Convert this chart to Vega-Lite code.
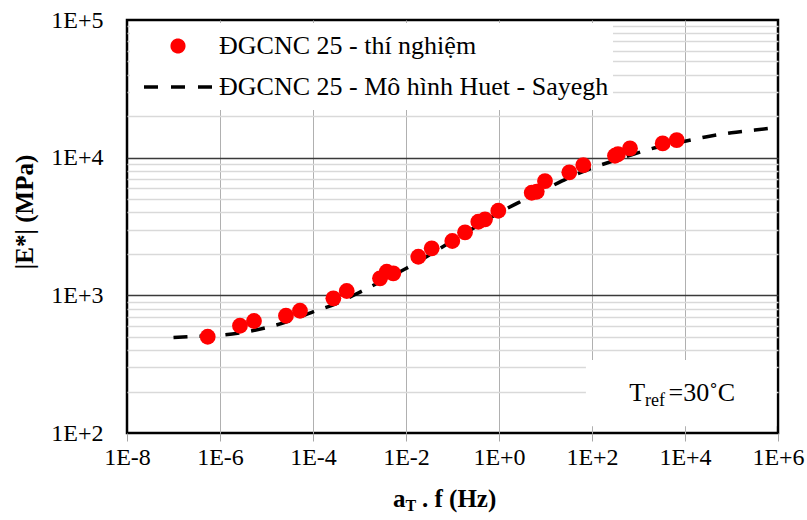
{
  "$schema": "https://vega.github.io/schema/vega-lite/v6.json",
  "width": 651,
  "height": 413,
  "autosize": {"type": "none"},
  "padding": {"left": 127, "top": 20, "right": 29, "bottom": 87},
  "background": "white",
  "config": {
    "view": {"stroke": "black", "strokeWidth": 2.5},
    "font": "Liberation Serif"
  },
  "datasets": {
    "measured": [
      {"f": 5.44e-7, "E": 500, "series": "ĐGCNC 25 - thí nghiệm"},
      {"f": 2.69e-6, "E": 601, "series": "ĐGCNC 25 - thí nghiệm"},
      {"f": 5.38e-6, "E": 651, "series": "ĐGCNC 25 - thí nghiệm"},
      {"f": 2.62e-5, "E": 711, "series": "ĐGCNC 25 - thí nghiệm"},
      {"f": 5.25e-5, "E": 773, "series": "ĐGCNC 25 - thí nghiệm"},
      {"f": 2.74e-4, "E": 951, "series": "ĐGCNC 25 - thí nghiệm"},
      {"f": 5.31e-4, "E": 1075, "series": "ĐGCNC 25 - thí nghiệm"},
      {"f": 2.76e-3, "E": 1329, "series": "ĐGCNC 25 - thí nghiệm"},
      {"f": 3.85e-3, "E": 1484, "series": "ĐGCNC 25 - thí nghiệm"},
      {"f": 5.33e-3, "E": 1445, "series": "ĐGCNC 25 - thí nghiệm"},
      {"f": 1.84e-2, "E": 1907, "series": "ĐGCNC 25 - thí nghiệm"},
      {"f": 3.57e-2, "E": 2194, "series": "ĐGCNC 25 - thí nghiệm"},
      {"f": 9.9e-2, "E": 2480, "series": "ĐGCNC 25 - thí nghiệm"},
      {"f": 0.186, "E": 2868, "series": "ĐGCNC 25 - thí nghiệm"},
      {"f": 0.359, "E": 3423, "series": "ĐGCNC 25 - thí nghiệm"},
      {"f": 0.5, "E": 3564, "series": "ĐGCNC 25 - thí nghiệm"},
      {"f": 0.966, "E": 4117, "series": "ĐGCNC 25 - thí nghiệm"},
      {"f": 5.05, "E": 5560, "series": "ĐGCNC 25 - thí nghiệm"},
      {"f": 6.47, "E": 5655, "series": "ĐGCNC 25 - thí nghiệm"},
      {"f": 9.75, "E": 6761, "series": "ĐGCNC 25 - thí nghiệm"},
      {"f": 32.5, "E": 7820, "series": "ĐGCNC 25 - thí nghiệm"},
      {"f": 65, "E": 8836, "series": "ĐGCNC 25 - thí nghiệm"},
      {"f": 312, "E": 10323, "series": "ĐGCNC 25 - thí nghiệm"},
      {"f": 362, "E": 10620, "series": "ĐGCNC 25 - thí nghiệm"},
      {"f": 656, "E": 11683, "series": "ĐGCNC 25 - thí nghiệm"},
      {"f": 3311, "E": 12699, "series": "ĐGCNC 25 - thí nghiệm"},
      {"f": 6637, "E": 13421, "series": "ĐGCNC 25 - thí nghiệm"}
    ],
    "model": [
      {"f": 1e-7, "E": 494, "series": "ĐGCNC 25 - Mô hình Huet - Sayegh"},
      {"f": 3.16e-7, "E": 504, "series": "ĐGCNC 25 - Mô hình Huet - Sayegh"},
      {"f": 1e-6, "E": 512, "series": "ĐGCNC 25 - Mô hình Huet - Sayegh"},
      {"f": 3.16e-6, "E": 538, "series": "ĐGCNC 25 - Mô hình Huet - Sayegh"},
      {"f": 1e-5, "E": 583, "series": "ĐGCNC 25 - Mô hình Huet - Sayegh"},
      {"f": 3.16e-5, "E": 653, "series": "ĐGCNC 25 - Mô hình Huet - Sayegh"},
      {"f": 1e-4, "E": 759, "series": "ĐGCNC 25 - Mô hình Huet - Sayegh"},
      {"f": 3.16e-4, "E": 872, "series": "ĐGCNC 25 - Mô hình Huet - Sayegh"},
      {"f": 1e-3, "E": 1051, "series": "ĐGCNC 25 - Mô hình Huet - Sayegh"},
      {"f": 3.16e-3, "E": 1283, "series": "ĐGCNC 25 - Mô hình Huet - Sayegh"},
      {"f": 1e-2, "E": 1565, "series": "ĐGCNC 25 - Mô hình Huet - Sayegh"},
      {"f": 3.16e-2, "E": 1962, "series": "ĐGCNC 25 - Mô hình Huet - Sayegh"},
      {"f": 0.1, "E": 2492, "series": "ĐGCNC 25 - Mô hình Huet - Sayegh"},
      {"f": 0.316, "E": 3146, "series": "ĐGCNC 25 - Mô hình Huet - Sayegh"},
      {"f": 1, "E": 3973, "series": "ĐGCNC 25 - Mô hình Huet - Sayegh"},
      {"f": 3.16, "E": 4864, "series": "ĐGCNC 25 - Mô hình Huet - Sayegh"},
      {"f": 10, "E": 5890, "series": "ĐGCNC 25 - Mô hình Huet - Sayegh"},
      {"f": 31.6, "E": 7155, "series": "ĐGCNC 25 - Mô hình Huet - Sayegh"},
      {"f": 100, "E": 8404, "series": "ĐGCNC 25 - Mô hình Huet - Sayegh"},
      {"f": 316, "E": 9568, "series": "ĐGCNC 25 - Mô hình Huet - Sayegh"},
      {"f": 1000, "E": 10890, "series": "ĐGCNC 25 - Mô hình Huet - Sayegh"},
      {"f": 3162, "E": 12145, "series": "ĐGCNC 25 - Mô hình Huet - Sayegh"},
      {"f": 10000, "E": 13150, "series": "ĐGCNC 25 - Mô hình Huet - Sayegh"},
      {"f": 31623, "E": 14260, "series": "ĐGCNC 25 - Mô hình Huet - Sayegh"},
      {"f": 100000, "E": 15170, "series": "ĐGCNC 25 - Mô hình Huet - Sayegh"},
      {"f": 316228, "E": 15860, "series": "ĐGCNC 25 - Mô hình Huet - Sayegh"},
      {"f": 1000000, "E": 16670, "series": "ĐGCNC 25 - Mô hình Huet - Sayegh"}
    ]
  },
  "layer": [
    {
      "data": {"values": [{"note": "Tref box"}]},
      "mark": {"type": "rect", "fill": "white"},
      "encoding": {
        "x": {"datum": 74, "type": "quantitative", "scale": {"type": "log", "domain": [1e-8, 1e6], "nice": false}},
        "x2": {"datum": 922571},
        "y": {"datum": 339, "type": "quantitative", "scale": {"type": "log", "domain": [100, 100000], "nice": false}},
        "y2": {"datum": 112}
      }
    },
    {
      "data": {"name": "model"},
      "mark": {"type": "line", "strokeDash": [14, 12], "strokeWidth": 3.5, "interpolate": "monotone"},
      "encoding": {
        "x": {"field": "f", "type": "quantitative", "scale": {"type": "log", "domain": [1e-8, 1e6], "nice": false},
          "axis": {
            "values": [1e-8, 1e-6, 1e-4, 1e-2, 1, 100, 10000, 1000000],
            "labelExpr": "'1E' + (datum.value >= 0.5 ? '+' : '-') + abs(round(log(datum.value) / LN10))",
            "labelFont": "Liberation Serif", "labelFontSize": 24, "labelColor": "black",
            "labelPadding": 4, "labelFlush": false, "labelOverlap": false, "labelBound": false,
            "ticks": true, "tickSize": 8, "tickColor": "#a6a6a6", "tickWidth": 1,
            "domain": false,
            "grid": true, "gridColor": "#b0b0b0", "gridWidth": 1,
            "gridOpacity": {"condition": {"test": "datum.value < 1e-7 || datum.value > 1e5", "value": 0}, "value": 1},
            "title": null
          }
        },
        "y": {"field": "E", "type": "quantitative", "scale": {"type": "log", "domain": [100, 100000], "nice": false},
          "axis": {
            "values": [100, 200, 300, 400, 500, 600, 700, 800, 900, 1000, 2000, 3000, 4000, 5000, 6000, 7000, 8000, 9000, 10000, 20000, 30000, 40000, 50000, 60000, 70000, 80000, 90000, 100000],
            "labelExpr": "datum.value == 100 ? '1E+2' : datum.value == 1000 ? '1E+3' : datum.value == 10000 ? '1E+4' : datum.value == 100000 ? '1E+5' : ''",
            "labelFont": "Liberation Serif", "labelFontSize": 24, "labelColor": "black",
            "labelPadding": 24, "labelOverlap": false, "labelBound": false,
            "ticks": false, "tickSize": 0,
            "domain": false,
            "grid": true,
            "gridColor": {"condition": {"test": "datum.value == 1000 || datum.value == 10000", "value": "#3a3a3a"}, "value": "#d9d9d9"},
            "gridWidth": 1.5,
            "gridOpacity": {"condition": {"test": "datum.value < 150 || datum.value > 95000", "value": 0}, "value": 1},
            "title": "|E*| (MPa)",
            "titleFont": "Liberation Serif", "titleFontSize": 25, "titleFontWeight": "bold", "titleColor": "black",
            "titleX": -103, "titleY": 191.5, "titleAngle": 270, "titleAlign": "center", "titleBaseline": "middle"
          }
        },
        "color": {
          "field": "series", "type": "nominal",
          "scale": {"domain": ["ĐGCNC 25 - thí nghiệm", "ĐGCNC 25 - Mô hình Huet - Sayegh"], "range": ["#ff0000", "#000000"]},
          "legend": {
            "title": null,
            "orient": "top-left",
            "offset": 3,
            "padding": 4,
            "fillColor": "white",
            "labelFont": "Liberation Serif",
            "labelFontSize": 26,
            "labelColor": "black",
            "labelLimit": 0,
            "labelOffset": 5,
            "symbolType": "stroke",
            "symbolSize": 4624,
            "symbolStrokeWidth": 3.5,
            "symbolDash": [14, 13],
            "symbolOffset": 8,
            "clipHeight": 38,
            "rowPadding": 3,
            "encode": {
              "symbols": {
                "update": {
                  "shape": [{"test": "datum.value == 'ĐGCNC 25 - thí nghiệm'", "value": "M0.17,0A0.17,0.17,0,1,1,-0.17,0A0.17,0.17,0,1,1,0.17,0Z"}, {"value": "stroke"}],
                  "fill": [{"test": "datum.value == 'ĐGCNC 25 - thí nghiệm'", "value": "#ff0000"}, {"value": "transparent"}],
                  "stroke": [{"test": "datum.value == 'ĐGCNC 25 - thí nghiệm'", "value": "#ff0000"}, {"value": "#000000"}],
                  "strokeDash": [{"test": "datum.value == 'ĐGCNC 25 - thí nghiệm'", "value": [1, 0]}, {"value": [14, 13]}],
                  "opacity": {"value": 1}
                }
              }
            }
          }
        }
      }
    },
    {
      "data": {"name": "measured"},
      "mark": {"type": "point", "shape": "circle", "filled": true, "size": 250, "opacity": 1},
      "encoding": {
        "x": {"field": "f", "type": "quantitative", "scale": {"type": "log"}},
        "y": {"field": "E", "type": "quantitative", "scale": {"type": "log"}},
        "color": {"field": "series", "type": "nominal"}
      }
    },
    {
      "data": {"values": [{"note": "Tref"}]},
      "mark": {"type": "text", "text": "T", "font": "Liberation Serif", "fontSize": 26, "align": "left", "baseline": "alphabetic", "dx": -9.2, "dy": 9, "color": "black"},
      "encoding": {
        "x": {"datum": 1000, "type": "quantitative", "scale": {"type": "log"}},
        "y": {"datum": 200, "type": "quantitative", "scale": {"type": "log"}}
      }
    },
    {
      "data": {"values": [{"note": "Tref"}]},
      "mark": {"type": "text", "text": "ref", "font": "Liberation Serif", "fontSize": 18, "align": "left", "baseline": "alphabetic", "dx": 6.5, "dy": 14, "color": "black"},
      "encoding": {
        "x": {"datum": 1000, "type": "quantitative", "scale": {"type": "log"}},
        "y": {"datum": 200, "type": "quantitative", "scale": {"type": "log"}}
      }
    },
    {
      "data": {"values": [{"note": "Tref"}]},
      "mark": {"type": "text", "text": "=30˚C", "font": "Liberation Serif", "fontSize": 26, "align": "left", "baseline": "alphabetic", "dx": 30, "dy": 9, "color": "black"},
      "encoding": {
        "x": {"datum": 1000, "type": "quantitative", "scale": {"type": "log"}},
        "y": {"datum": 200, "type": "quantitative", "scale": {"type": "log"}}
      }
    },
    {
      "data": {"values": [{"note": "x title"}]},
      "mark": {"type": "text", "text": "a", "font": "Liberation Serif", "fontSize": 25, "fontWeight": "bold", "align": "left", "baseline": "alphabetic", "dx": -59.5, "dy": 74, "color": "black"},
      "encoding": {
        "x": {"datum": 0.1, "type": "quantitative", "scale": {"type": "log"}},
        "y": {"datum": 100, "type": "quantitative", "scale": {"type": "log"}}
      }
    },
    {
      "data": {"values": [{"note": "x title"}]},
      "mark": {"type": "text", "text": "T", "font": "Liberation Serif", "fontSize": 16, "fontWeight": "bold", "align": "left", "baseline": "alphabetic", "dx": -47, "dy": 78, "color": "black"},
      "encoding": {
        "x": {"datum": 0.1, "type": "quantitative", "scale": {"type": "log"}},
        "y": {"datum": 100, "type": "quantitative", "scale": {"type": "log"}}
      }
    },
    {
      "data": {"values": [{"note": "x title"}]},
      "mark": {"type": "text", "text": ". f (Hz)", "font": "Liberation Serif", "fontSize": 25, "fontWeight": "bold", "align": "left", "baseline": "alphabetic", "dx": -30.5, "dy": 74, "color": "black"},
      "encoding": {
        "x": {"datum": 0.1, "type": "quantitative", "scale": {"type": "log"}},
        "y": {"datum": 100, "type": "quantitative", "scale": {"type": "log"}}
      }
    }
  ]
}
